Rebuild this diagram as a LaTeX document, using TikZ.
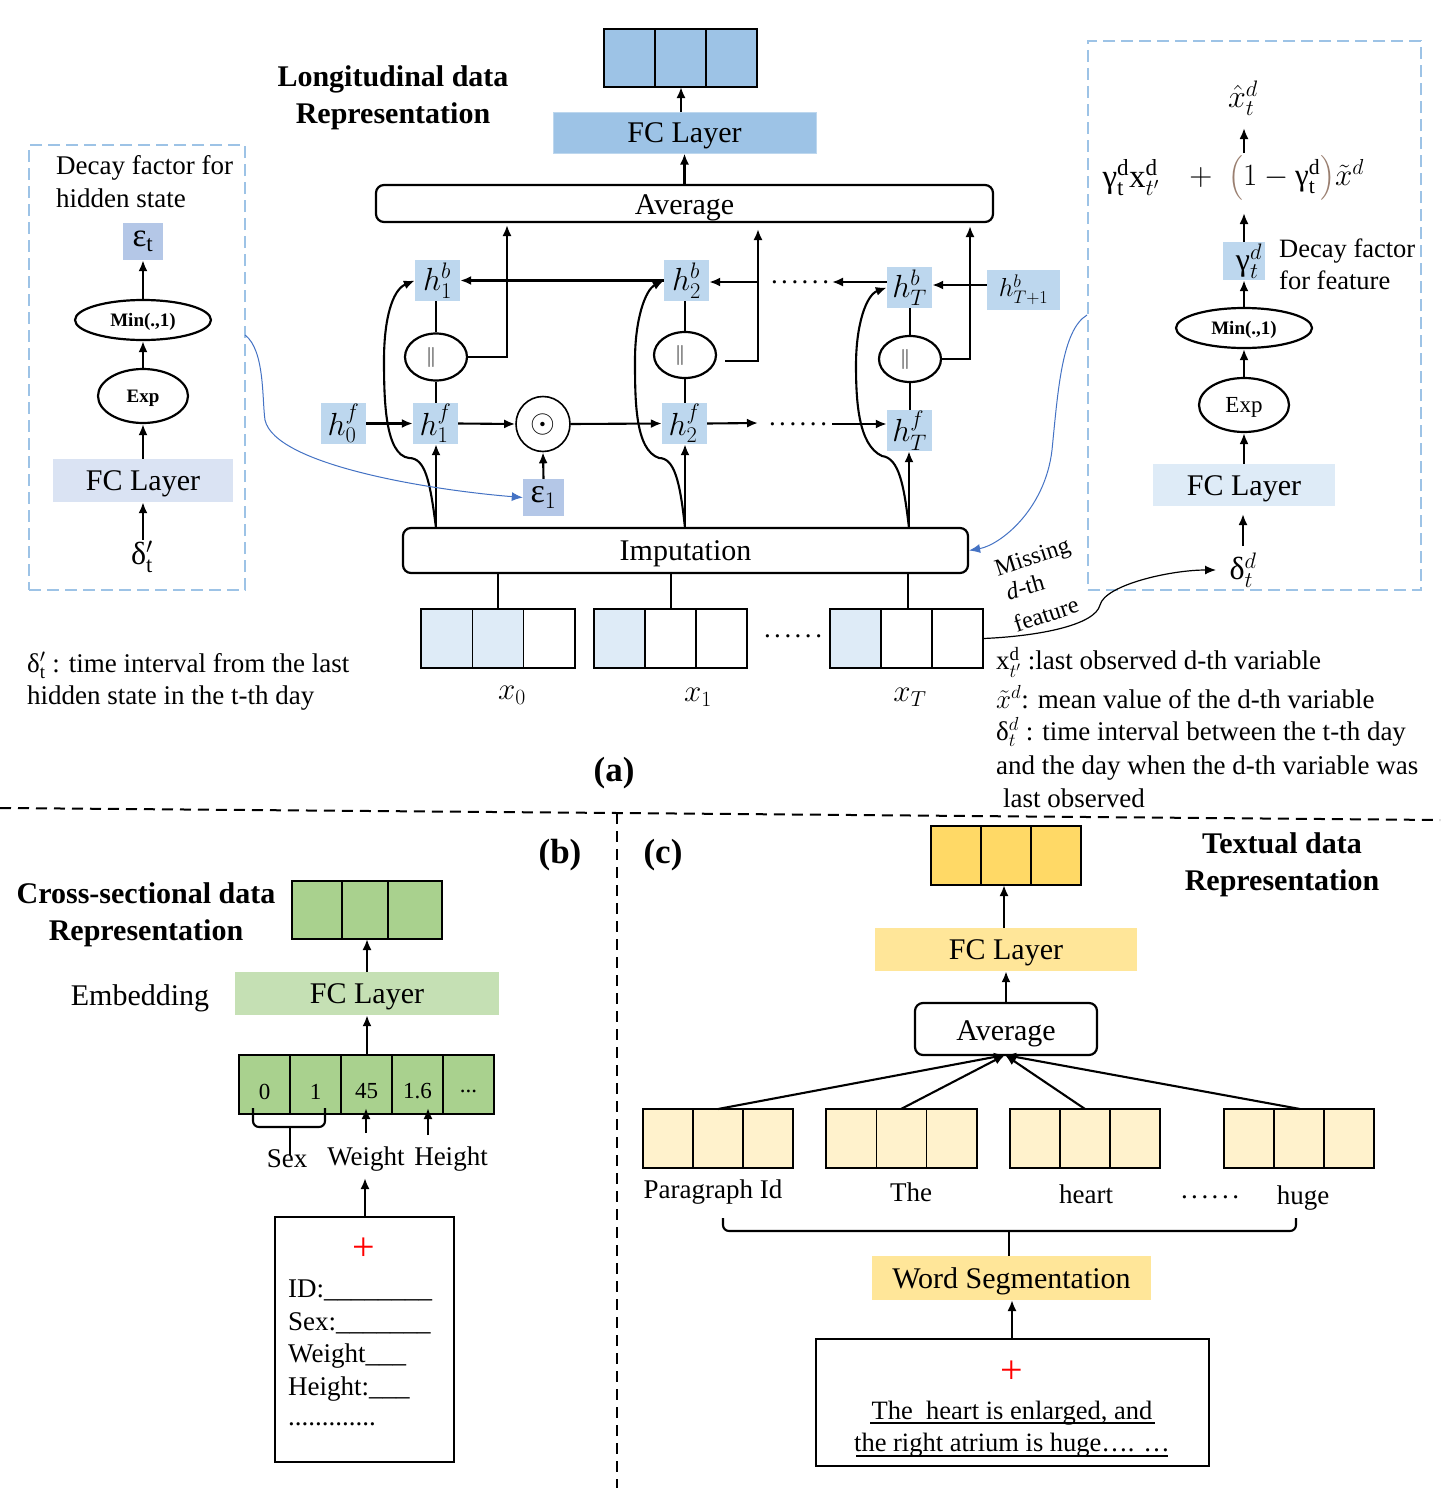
\documentclass[tikz,border=0pt]{standalone}
\usepackage{fix-cm}
\usepackage{amsmath}
\usepackage{fontspec}
\setmainfont{Liberation Serif}
\usetikzlibrary{arrows.meta,shapes.geometric,calc}
\definecolor{bluA}{HTML}{9DC3E6}
\definecolor{bluB}{HTML}{BDD7EE}
\definecolor{bluC}{HTML}{DEEBF7}
\definecolor{bluD}{HTML}{B4C7E7}
\definecolor{bluE}{HTML}{DAE3F3}
\definecolor{linkblue}{HTML}{4472C4}
\definecolor{grnA}{HTML}{A9D18E}
\definecolor{grnB}{HTML}{C5E0B4}
\definecolor{yelA}{HTML}{FFD966}
\definecolor{yelB}{HTML}{FFE699}
\definecolor{yelC}{HTML}{FFF2CC}
\definecolor{parc}{HTML}{9A7F70}
\newcommand{\fsz}[1]{\fontsize{#1}{#1}\selectfont}
\newcommand{\dn}[2][3.5pt]{\raisebox{-#1}[\height][\depth]{#2}}
\newcommand{\ddd}{.\hspace{3.5pt}.\hspace{3.5pt}.\hspace{3.5pt}.\hspace{3.5pt}.\hspace{3.5pt}.}
% rectangle node from corners: name, x1,y1,x2,y2, style, text
\newcommand{\rbx}[7]{%
  \pgfmathsetmacro{\rbxw}{#4-#2}\pgfmathsetmacro{\rbxh}{#5-#3}%
  \pgfmathsetmacro{\rbxx}{(#2+#4)/2}\pgfmathsetmacro{\rbxy}{(#3+#5)/2}%
  \node[minimum width=\rbxw pt,minimum height=\rbxh pt,inner sep=0pt,#6] (#1) at (\rbxx,\rbxy) {#7};}
% three-cell strip: name, x1,y1, cell width, height, fill1,fill2,fill3
\newcommand{\strip}[8]{%
  \pgfmathsetmacro{\sa}{#2}\pgfmathsetmacro{\sb}{#2+#4}\pgfmathsetmacro{\sc}{#2+2*#4}\pgfmathsetmacro{\sd}{#2+3*#4}\pgfmathsetmacro{\se}{#3+#5}%
  \rbx{#1a}{\sa}{#3}{\sb}{\se}{cell,fill=#6}{}%
  \rbx{#1b}{\sb}{#3}{\sc}{\se}{cell,fill=#7}{}%
  \rbx{#1c}{\sc}{#3}{\sd}{\se}{cell,fill=#8}{}}
\tikzset{
  x=1pt,y=-1pt,
  every node/.style={font=\fsz{27}},
  cell/.style={draw=black,line width=1.5pt},
  hbox/.style={fill=bluB,font=\fsz{32}},
  rnd/.style={draw=black,line width=2.2pt,rounded corners=8pt,fill=white},
  conn/.style={line width=2.1pt,-{Latex[length=11pt,width=9pt]}},
  plain/.style={line width=2.1pt},
  curved/.style={line width=2.1pt,-{Latex[length=11pt,width=9pt]}},
  oval/.style={ellipse,draw=black,line width=2.2pt,fill=white,inner sep=0pt},
  dashbox/.style={draw=bluA,line width=2.6pt,dash pattern=on 12pt off 6pt},
  sepline/.style={draw=black,line width=2pt,dash pattern=on 11pt off 7pt},
  title/.style={font=\fontsize{30}{37}\selectfont\bfseries,align=center},
  link/.style={draw=linkblue,line width=1pt,-{Latex[length=11pt,width=9pt]}},
  lab/.style={anchor=west,inner sep=0pt},
  minmax/.style={font=\fsz{19}\bfseries},
  fctext/.style={font=\fsz{30}},
}
\begin{document}
\begin{tikzpicture}
\useasboundingbox[fill=white] (0,0) rectangle (1440,1488);

% ---------- (a) top ----------
\strip{topcell}{604}{29}{51}{58}{bluA}{bluA}{bluA}
\rbx{fcA}{553}{112}{816}{153}{fill=bluA,draw=bluB,line width=1pt,fctext}{\dn{FC Layer}}
\rbx{avgA}{376}{185}{993}{222}{rnd,fctext}{\dn[4.5pt]{Average}}
\node[title] (titleA) at (393,98) {Longitudinal data\\Representation};

% hidden state nodes
\rbx{hb1}{415}{260}{460}{301}{hbox}{$h_1^b$}
\rbx{hb2}{664}{260}{709}{301}{hbox}{$h_2^b$}
\rbx{hbT}{887}{267}{932}{308}{hbox}{$h_T^b$}
\rbx{hbE}{987}{270}{1060}{310}{hbox,font=\fsz{26}}{$h_{T+1}^b$}
\rbx{hf0}{321}{403}{366}{444}{hbox}{$h_0^f$}
\rbx{hf1}{413}{403}{458}{444}{hbox}{$h_1^f$}
\rbx{hf2}{662}{403}{707}{444}{hbox}{$h_2^f$}
\rbx{hfT}{887}{410}{932}{451}{hbox}{$h_T^f$}
\rbx{eps1}{523}{479}{564}{516}{fill=bluD,font=\fsz{34}}{\mbox{ε}$_1$}
\node[oval,minimum width=62pt,minimum height=47pt,font=\fsz{20}] (c1) at (436,357) {\hspace*{-10pt}$\|$};
\node[oval,minimum width=62pt,minimum height=46pt,font=\fsz{20}] (c2) at (685,355) {\hspace*{-10pt}$\|$};
\node[oval,minimum width=62pt,minimum height=46pt,font=\fsz{20}] (c3) at (910,359) {\hspace*{-10pt}$\|$};
\node[oval,minimum width=54pt,minimum height=55pt,line width=1.6pt,font=\fsz{32}] (odot) at (543,424) {$\odot$};
\rbx{imp}{403}{528}{968}{573}{rnd,fctext}{\dn{Imputation}}

% input strips
\strip{xa}{421}{609}{51.3}{59}{bluC}{bluC}{white}
\strip{xb}{594}{609}{51}{59}{bluC}{white}{white}
\strip{xc}{830}{609}{51}{59}{bluC}{white}{white}
\node[font=\fsz{31}] (labx0) at (512,695) {$x_0$};
\node[font=\fsz{31}] (labx1) at (698,697) {$x_1$};
\node[font=\fsz{31}] (labxT) at (910,697) {$x_T$};
\node (dotsx) at (793,636) {\ddd};
\node (dotsb) at (800,282) {\ddd};
\node (dotsf) at (798,424) {\ddd};
\node[font=\fsz{35}\bfseries] (laba) at (614,773) {(a)};

% named free ends
\coordinate (i1) at (436,528); \coordinate (i2) at (685,528); \coordinate (i3) at (909,528);
\coordinate (aA) at (507,225); \coordinate (aB) at (758,229); \coordinate (aC) at (970,226);
\coordinate (bA) at (507,357); \coordinate (bB) at (758,361); \coordinate (bC) at (970,359);
\coordinate (gapB) at (725,361);
\coordinate (fe) at (758,423); \coordinate (fs) at (832,424);
\coordinate (be) at (832,282); \coordinate (bs) at (758,282);
\coordinate (fcAo) at (681,112); \coordinate (topi) at (681,87);
\coordinate (x2o) at (671,573); \coordinate (x2i) at (671,609);
\coordinate (x3o) at (908,573); \coordinate (x3i) at (908,609);

\draw[conn] (fcAo) -- (topi);
\draw[conn] (fcA.south |- avgA.north) -- (fcA.south);
\draw[conn] (hf0.east) -- (hf1.west);
\draw[conn] (hf1.east) -- (odot.west);
\draw[conn] (odot.east) -- (hf2.west);
\draw[conn] (hf2.east) -- (fe);
\draw[conn] (fs) -- (hfT.west |- fs);
\draw[conn] (eps1.north) -- (odot.south);
\draw[conn] (i1) -- (i1 |- hf1.south);
\draw[conn] (i2) -- (i2 |- hf2.south);
\draw[conn] (i3) -- (i3 |- hfT.south);
\draw[plain] (hb1.south -| c1.north) -- (c1.north);
\draw[plain] (c1.south) -- (c1.south |- hf1.north);
\draw[plain] (hb2.south -| c2.north) -- (c2.north);
\draw[plain] (c2.south) -- (c2.south |- hf2.north);
\draw[plain] (hbT.south -| c3.north) -- (c3.north);
\draw[plain] (c3.south) -- (c3.south |- hfT.north);
\draw[conn] (c1.east) -- (bA) -- (aA);
\draw[conn] (gapB) -- (bB) -- (aB);
\draw[conn] (c3.east) -- (bC) -- (aC);
\draw[conn] (hb2.west |- hb1.east) -- (hb1.east);
\draw[conn] (bs) -- (hb2.east |- bs);
\draw[conn] (hbT.west |- be) -- (be);
\draw[conn] (hbE.west |- 0,285) -- (hbT.east |- 0,285);
\draw[curved] (i1) .. controls (430,480) and (425,458) .. (409,458)
   .. controls (385,455) and (384,400) .. (384,360) .. controls (384,320) and (392,290) .. (hb1.west);
\draw[curved] (i2) .. controls (680,480) and (674,458) .. (659,458)
   .. controls (635,450) and (635,400) .. (635,360) .. controls (635,320) and (645,290) .. (hb2.west);
\draw[curved] (i3) .. controls (904,485) and (899,458) .. (882,456)
   .. controls (858,445) and (856,400) .. (856,365) .. controls (856,325) and (866,295) .. (hbT.west);
\draw[plain] (xab.north |- imp.south) -- (xab.north);
\draw[plain] (x2o) -- (x2i);
\draw[plain] (x3o) -- (x3i);

% ---------- left dashed panel ----------
\rbx{panL}{29}{145}{245}{590}{dashbox}{}
\node[lab,align=left,font=\fontsize{27}{33}\selectfont] (decL) at (56,182) {Decay factor for\\hidden state};
\rbx{epst}{123}{223}{163}{260}{fill=bluD,font=\fsz{33}}{\mbox{ε}$_{\mathrm t}$}
\node[oval,minimum width=136pt,minimum height=40pt,minmax] (minL) at (143,320) {\dn[2pt]{Min(.,1)}};
\node[oval,minimum width=90pt,minimum height=54pt,minmax] (expL) at (143,396) {\dn[2pt]{Exp}};
\rbx{fcL}{53}{459}{233}{502}{fill=bluE,fctext}{\dn{FC Layer}}
\node[font=\fsz{32}] (delL) at (142,557) {\mbox{δ}$'_{\mathrm t}$};
\coordinate (delLo) at (143,540);
\draw[conn] (delLo) -- (fcL.south);
\draw[conn] (fcL.north) -- (expL.south);
\draw[conn] (expL.north) -- (minL.south);
\draw[conn] (minL.north) -- (epst.south);
\node[lab,align=left,font=\fontsize{27}{32}\selectfont] (noteL) at (27,681) {\mbox{δ}$'_{\mathrm t}$ : time interval from the last\\hidden state in the t-th day};
\coordinate (panLc) at (245,335);
\draw[link] (panLc) .. controls (265,350) and (262,400) .. (265,420) .. controls (275,465) and (430,490) .. (eps1.west);

% ---------- right dashed panel ----------
\rbx{panR}{1088}{41}{1421}{590}{dashbox}{}
\node[font=\fsz{32}] (xhat) at (1243,98) {$\hat{x}_t^d$};
\node[font=\fsz{33}] (fa) at (1131,178) {\mbox{γ}$_{\mathrm t}^{\mathrm d}\mathrm{x}_{t'}^{\mathrm d}$};
\node[font=\fsz{32}] (fb) at (1201,178) {$+$};
\node[font=\fsz{31}] (fc) at (1296,178) {$\textcolor{parc}{\bigl(}1-\mbox{γ}_{\mathrm t}^{\mathrm d}\textcolor{parc}{\bigr)}\tilde{x}^d$};
\rbx{gam}{1223}{242}{1265}{280}{fill=bluB,font=\fsz{32}}{\hspace{10pt}\mbox{γ}$_t^d$}
\node[lab,align=left,font=\fontsize{26.5}{32}\selectfont] (decR) at (1279,264) {Decay factor\\for feature};
\node[oval,minimum width=136pt,minimum height=40pt,minmax] (minR) at (1244,328) {\dn[2pt]{Min(.,1)}};
\node[oval,minimum width=90pt,minimum height=54pt,font=\fsz{23}] (expR) at (1244,405) {\dn[2pt]{Exp}};
\rbx{fcR}{1153}{464}{1335}{506}{fill=bluC,fctext}{\dn{FC Layer}}
\node[font=\fsz{32}] (delR) at (1243,570) {\mbox{δ}$_t^d$};
\coordinate (delRo) at (1243,546); \coordinate (fcRi) at (1243,514);
\coordinate (gamo) at (1244,213); \coordinate (sumo) at (1244,153); \coordinate (hati) at (1244,128);
\draw[conn] (delRo) -- (fcRi);
\draw[conn] (fcR.north) -- (expR.south);
\draw[conn] (expR.north) -- (minR.south);
\draw[conn] (minR.north) -- (gam.south -| minR.north);
\draw[conn] (gam.north -| minR.north) -- (gamo);
\draw[conn] (sumo) -- (hati);
\coordinate (panRc) at (1087,315);
\draw[link] (panRc) .. controls (1062,330) and (1058,390) .. (1052,450) .. controls (1045,510) and (1000,545) .. (imp.east);
\coordinate (delRi) at (1216,570);
\draw[line width=1.2pt,-{Latex[length=11pt,width=9pt]}] (xcc.east) .. controls (1040,636) and (1095,625) .. (1100,605) .. controls (1105,585) and (1170,570) .. (delRi);
\node[rotate=18,font=\fsz{24}] (mis1) at (1033,559) {Missing};
\node[rotate=16,font=\fsz{24}] (mis2) at (1025,587) {\textit{d}-th};
\node[rotate=18,font=\fsz{24}] (mis3) at (1046,614) {feature};
\node[lab] (nR1) at (996,662) {$\mathrm{x}_{t'}^{\mathrm d}$ :last observed d-th variable};
\node[lab] (nR2) at (996,697) {$\tilde{x}^d$: mean value of the d-th variable};
\node[lab] (nR3) at (996,732) {\mbox{δ}$_t^d$ : time interval between the t-th day};
\node[lab] (nR4) at (996,768) {and the day when the d-th variable was};
\node[lab] (nR5) at (1003,798) {last observed};

% ---------- separators ----------
\coordinate (sL) at (0,808); \coordinate (sM) at (617,813); \coordinate (sR) at (1440,820); \coordinate (sB) at (617,1488);
\draw[sepline] (sL) -- (sM) -- (sR);
\draw[sepline] (sM) -- (sB);

% ---------- (b) ----------
\node[font=\fsz{35}\bfseries] (labb) at (560,855) {(b)};
\node[title] (titleB) at (146,915) {Cross-sectional data\\Representation};
\rbx{gtopa}{292}{881}{342}{939}{cell,fill=grnA}{}
\rbx{gtopb}{342}{881}{388}{939}{cell,fill=grnA}{}
\rbx{gtopc}{388}{881}{442}{939}{cell,fill=grnA}{}
\rbx{fcB}{235}{972}{499}{1015}{fill=grnB,fctext}{\dn{FC Layer}}
\node[font=\fsz{30}] (emb) at (140,998) {Embedding};
\rbx{v0}{239}{1055}{290}{1114}{cell,fill=grnA,font=\fsz{23}}{\dn[7pt]{0}}
\rbx{v1}{290}{1055}{341}{1114}{cell,fill=grnA,font=\fsz{23}}{\dn[7pt]{1}}
\rbx{v2}{341}{1055}{392}{1114}{cell,fill=grnA,font=\fsz{23}}{\dn[7pt]{45}}
\rbx{v3}{392}{1055}{443}{1114}{cell,fill=grnA,font=\fsz{23}}{\dn[7pt]{1.6}}
\rbx{v4}{443}{1055}{494}{1114}{cell,fill=grnA,font=\fsz{23}}{\dn[7pt]{...}}
\coordinate (greeni) at (367,939); \coordinate (gf) at (367,972);
\draw[conn] (gf) -- (greeni);
\draw[conn] (v2.north -| gf) -- (fcB.south -| gf);
\node (lsex) at (287,1159) {Sex};
\node (lwei) at (366,1159) {Weight};
\node (lhei) at (451,1159) {Height};
\coordinate (brA) at (253,1108); \coordinate (brB) at (325,1108); \coordinate (brS) at (290,1155);
\draw[plain,rounded corners=6pt] (brA) -- (253,1127) -- (325,1127) -- (brB);
\draw[plain] (290,1127) -- (brS);
\coordinate (wo) at (366,1133); \coordinate (wi) at (366,1108);
\coordinate (ho) at (428,1135); \coordinate (hi) at (428,1108);
\draw[conn] (wo) -- (wi);
\draw[conn] (ho) -- (hi);
\rbx{docB}{275}{1217}{454}{1462}{draw=black,line width=2pt}{}
\coordinate (lbli) at (365,1178);
\draw[conn] (docB.north -| lbli) -- (lbli);
\node[text=red,font=\fsz{40}] (plusB) at (364,1249) {+};
\node[lab] (f1) at (288,1290) {ID:\_\_\_\_\_\_\_\_};
\node[lab] (f2) at (288,1323) {Sex:\_\_\_\_\_\_\_};
\node[lab] (f3) at (288,1356) {Weight\_\_\_};
\node[lab] (f4) at (288,1389) {Height:\_\_\_};
\node[lab] (f5) at (288,1424) {.............};

% ---------- (c) ----------
\node[font=\fsz{35}\bfseries] (labc) at (663,855) {(c)};
\node[title] (titleC) at (1282,865) {Textual data\\Representation};
\strip{ytop}{931}{826}{50}{59}{yelA}{yelA}{yelA}
\rbx{fcC}{875}{928}{1137}{971}{fill=yelB,fctext}{\dn{FC Layer}}
\rbx{avgC}{915}{1003}{1097}{1055}{rnd,fctext}{\dn[4.5pt]{Average}}
\coordinate (yto) at (1004,928); \coordinate (yti) at (1004,885);
\draw[conn] (yto) -- (yti);
\draw[conn] (avgC.north) -- (avgC.north |- fcC.south);
\strip{ya}{643}{1109}{50}{59}{yelC}{yelC}{yelC}
\strip{yb}{826}{1109}{50.3}{59}{yelC}{yelC}{yelC}
\strip{yc}{1010}{1109}{50}{59}{yelC}{yelC}{yelC}
\strip{yd}{1224}{1109}{50}{59}{yelC}{yelC}{yelC}
\coordinate (avgIn) at (1005,1055);
\coordinate (ya1) at (718,1109); \coordinate (yb1) at (901,1109); \coordinate (yc1) at (1085,1109); \coordinate (yd1) at (1300,1109);
\draw[conn] (ya1) -- (avgIn);
\draw[conn] (yb1) -- (avgIn);
\draw[conn] (yc1) -- (avgIn);
\draw[conn] (yd1) -- (avgIn);
\node (lp) at (713,1192) {Paragraph Id};
\node (lt) at (911,1192) {The};
\node (lh) at (1086,1194) {heart};
\node (ld) at (1210,1197) {\ddd};
\node (lu) at (1303,1198) {huge};
\rbx{wseg}{872}{1256}{1151}{1300}{fill=yelB,fctext}{\dn{Word Segmentation}}
\coordinate (brC) at (723,1218); \coordinate (brD) at (1296,1218); \coordinate (brE) at (1009,1231); \coordinate (brF) at (1009,1256);
\draw[plain,rounded corners=6pt] (brC) -- (723,1231) -- (1296,1231) -- (brD);
\draw[plain] (brE) -- (brF);
\rbx{docC}{816}{1339}{1209}{1466}{draw=black,line width=2pt}{}
\coordinate (wsi) at (1012,1300);
\draw[conn] (docC.north -| wsi) -- (wsi);
\node[text=red,font=\fsz{40}] (plusC) at (1012,1372) {+};
\node[font=\fsz{26.5}] (tx1) at (1012,1413) {The\ \ heart is enlarged, and};
\node[font=\fsz{26.5}] (tx2) at (1012,1445) {the right atrium is huge\dots. \dots};
\coordinate (ulA) at (870,1423); \coordinate (ulB) at (1155,1423);
\coordinate (ulC) at (856,1456); \coordinate (ulD) at (1168,1456);
\draw[line width=1.2pt] (ulA) -- (ulB);
\draw[line width=1.2pt] (ulC) -- (ulD);
\end{tikzpicture}
\end{document}
